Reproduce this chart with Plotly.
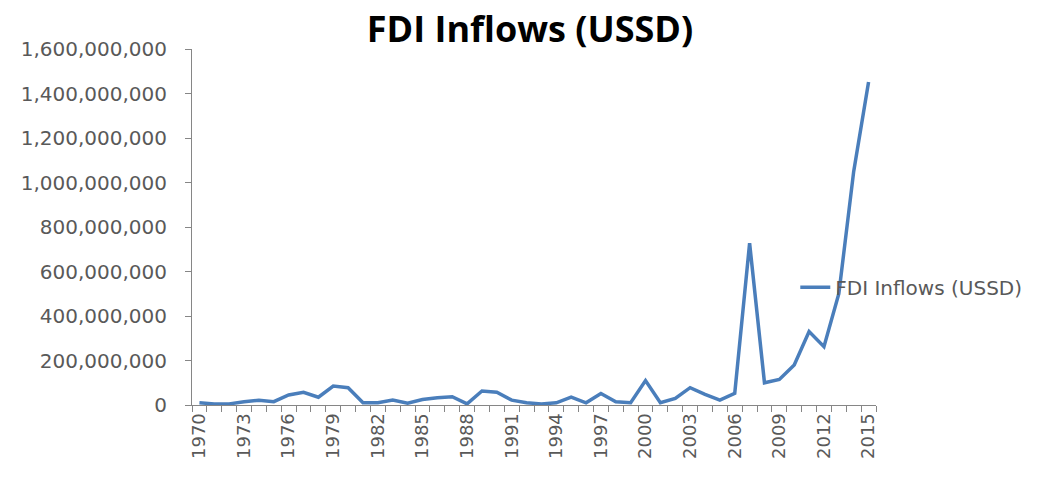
import plotly.graph_objects as go

# Annual FDI inflows, 1970-2015
years = list(range(1970, 2016))
fdi_inflows = [
    10e6, 5e6, 5e6, 15e6, 21e6, 15e6, 45e6, 57e6, 35e6, 85e6,
    78e6, 10e6, 10e6, 22e6, 8e6, 25e6, 33e6, 37e6, 5e6, 63e6,
    57e6, 22e6, 10e6, 5e6, 10e6, 35e6, 10e6, 52e6, 15e6, 10e6,
    110e6, 10e6, 30e6, 78e6, 48e6, 22e6, 52e6, 727e6, 100e6, 115e6,
    180e6, 330e6, 262e6, 500e6, 1050e6, 1452e6,
]
label_years = list(range(1970, 2016, 3))
y_ticks = list(range(0, 1_600_000_001, 200_000_000))

series_name = "FDI Inflows (USSD)"
font_family = "DejaVu Sans"
text_gray = "#595959"
axis_gray = "#868686"

fig = go.Figure()
fig.add_trace(go.Scatter(
    x=years,
    y=fdi_inflows,
    mode="lines",
    name=series_name,
    line=dict(color="#4A7EBB", width=3.5),
))

fig.update_layout(
    width=1039,
    height=486,
    margin=dict(l=192, r=161, t=49, b=81),
    paper_bgcolor="white",
    plot_bgcolor="white",
    title=dict(
        text="<b>FDI Inflows (USSD)</b>",
        font=dict(family="Open Sans", size=36, color="black"),
        x=530 / 1039,
        xanchor="center",
        xref="container",
        y=1 - 29 / 486,
        yanchor="middle",
        yref="container",
    ),
    showlegend=True,
    legend=dict(
        x=0.882,
        y=0.331,
        xanchor="left",
        yanchor="middle",
        bgcolor="rgba(0,0,0,0)",
        font=dict(family=font_family, size=20, color=text_gray),
    ),
    xaxis=dict(
        range=[1969.5, 2015.5],
        tickmode="array",
        tickvals=label_years,
        ticktext=[str(y) for y in label_years],
        tickangle=-90,
        ticks="",
        showgrid=False,
        zeroline=False,
        showline=True,
        linecolor=axis_gray,
        linewidth=1,
        tickfont=dict(family=font_family, size=18, color=text_gray),
        minor=dict(
            tick0=1969.5,
            dtick=1,
            ticks="outside",
            ticklen=6,
            tickcolor=axis_gray,
            showgrid=False,
        ),
    ),
    yaxis=dict(
        range=[0, 1_600_000_000],
        tickmode="array",
        tickvals=y_ticks,
        tickformat=",d",
        ticks="outside",
        ticklen=6,
        tickcolor=axis_gray,
        showgrid=False,
        zeroline=False,
        showline=True,
        linecolor=axis_gray,
        linewidth=1,
        ticklabelstandoff=14,
        tickfont=dict(family=font_family, size=20, color=text_gray),
    ),
)

fig.write_html("out.html")
